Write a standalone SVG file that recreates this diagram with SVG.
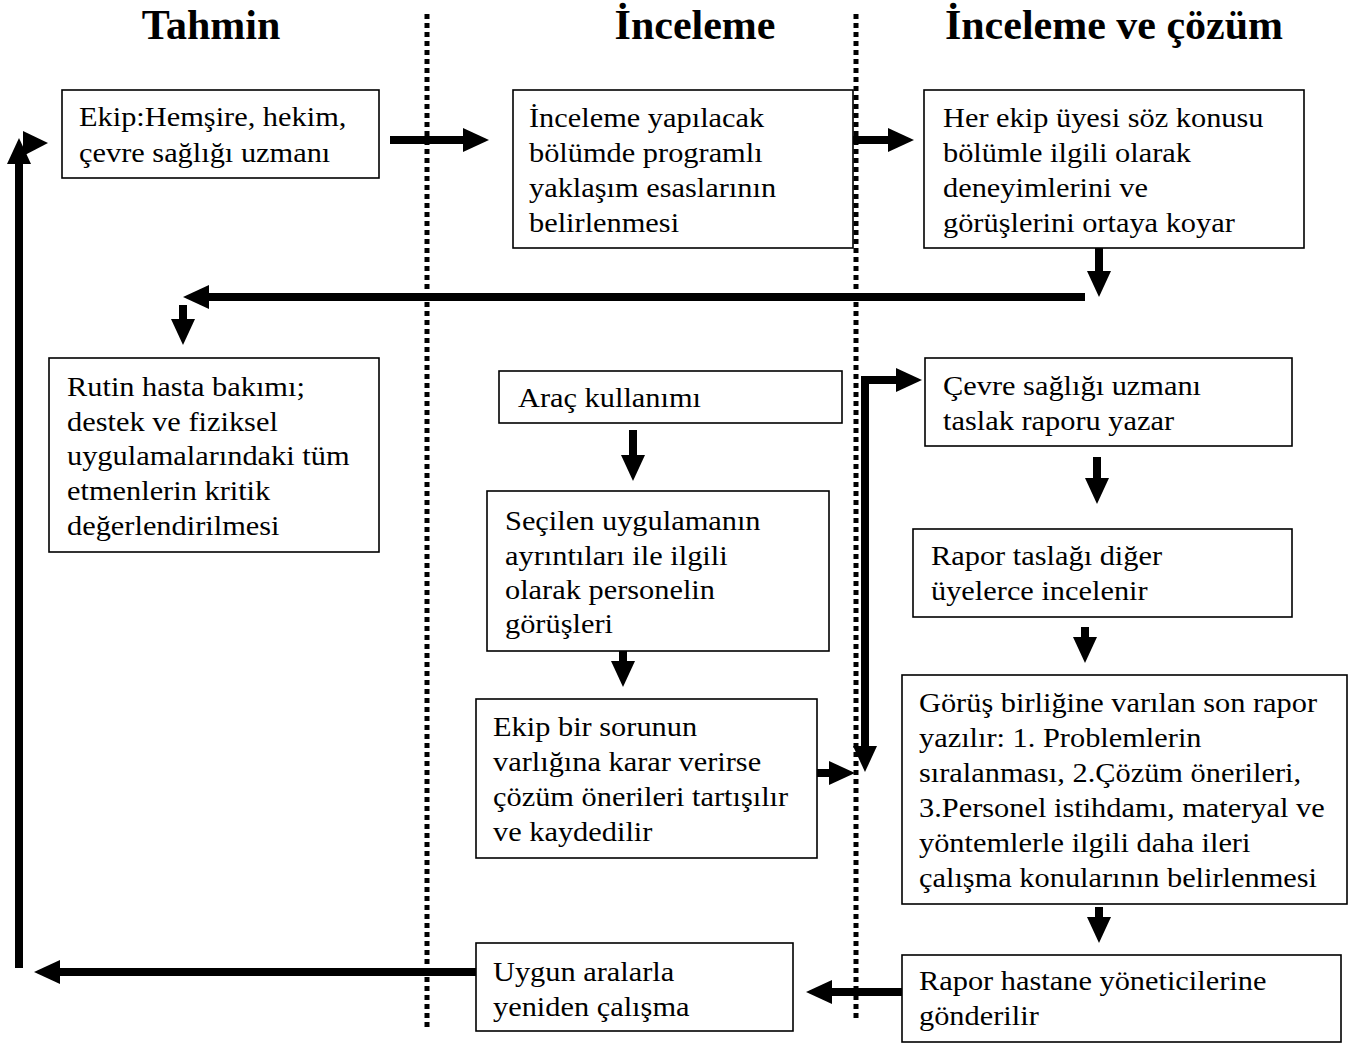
<svg xmlns="http://www.w3.org/2000/svg" width="1348" height="1044" viewBox="0 0 1348 1044">
<style>
.box{fill:#fff;stroke:#000;stroke-width:1.6}
.t{font-family:"Liberation Serif","Times New Roman",serif;font-size:28px;fill:#000}
.h{font-family:"Liberation Serif","Times New Roman",serif;font-size:42px;font-weight:bold;fill:#000;text-anchor:middle}
.dot{stroke:#000;stroke-width:5;stroke-dasharray:5 4;fill:none}
.ar{stroke:#000;stroke-width:8;fill:none;marker-end:url(#ah)}
</style>
<defs>
<marker id="ah" viewBox="0 0 26 24" refX="0" refY="12" markerWidth="26" markerHeight="24" markerUnits="userSpaceOnUse" orient="auto"><path d="M0,0 L26,12 L0,24 z" fill="#000"/></marker>
</defs>
<rect width="1348" height="1044" fill="#fff"/>
<g id="headers">
<text class="h" x="211" y="39">Tahmin</text>
<text class="h" x="695" y="39">İnceleme</text>
<text class="h" x="1114" y="39">İnceleme ve çözüm</text>
</g>
<g id="dividers">
<line class="dot" x1="427" y1="14" x2="427" y2="1028"/>
<line class="dot" x1="856" y1="14" x2="856" y2="1018"/>
</g>
<g id="connectors">
<line class="ar" x1="390" y1="140" x2="463" y2="140"/>
<line class="ar" x1="853" y1="140" x2="888" y2="140"/>
<line class="ar" x1="1099" y1="248" x2="1099" y2="271"/>
<line class="ar" x1="1085" y1="297" x2="209" y2="297"/>
<line class="ar" x1="183" y1="305" x2="183" y2="319"/>
<line class="ar" x1="633" y1="430" x2="633" y2="455"/>
<line class="ar" x1="623" y1="627" x2="623" y2="661"/>
<line class="ar" x1="817" y1="773" x2="829" y2="773"/>
<line class="ar" x1="865" y1="376" x2="865" y2="746"/>
<line class="ar" x1="861" y1="380" x2="896" y2="380"/>
<line class="ar" x1="1097" y1="457" x2="1097" y2="478"/>
<line class="ar" x1="1085" y1="627" x2="1085" y2="637"/>
<line class="ar" x1="1099" y1="907" x2="1099" y2="917"/>
<line class="ar" x1="902" y1="992" x2="832" y2="992"/>
<line class="ar" x1="476" y1="972" x2="60" y2="972"/>
<line class="ar" x1="19" y1="968" x2="19" y2="164"/>
<path d="M23,131 L48,143 L23,156 z" fill="#000"/>
</g>
<g id="n1">
<rect class="box" x="62" y="90" width="317" height="88"/>
<g transform="translate(79,0) scale(1.085,1)"><text class="t" x="0" y="126">Ekip:Hemşire, hekim,</text><text class="t" x="0" y="162">çevre sağlığı uzmanı</text></g>
</g>
<g id="n2">
<rect class="box" x="513" y="90" width="340" height="158"/>
<g transform="translate(529,0) scale(1.085,1)"><text class="t" x="0" y="127">İnceleme yapılacak</text><text class="t" x="0" y="162">bölümde programlı</text><text class="t" x="0" y="197">yaklaşım esaslarının</text><text class="t" x="0" y="232">belirlenmesi</text></g>
</g>
<g id="n3">
<rect class="box" x="924" y="90" width="380" height="158"/>
<g transform="translate(943,0) scale(1.085,1)"><text class="t" x="0" y="127">Her ekip üyesi söz konusu</text><text class="t" x="0" y="162">bölümle ilgili olarak</text><text class="t" x="0" y="197">deneyimlerini ve</text><text class="t" x="0" y="232">görüşlerini ortaya koyar</text></g>
</g>
<g id="n4">
<rect class="box" x="49" y="358" width="330" height="194"/>
<g transform="translate(67,0) scale(1.085,1)"><text class="t" x="0" y="396">Rutin hasta bakımı;</text><text class="t" x="0" y="431">destek ve fiziksel</text><text class="t" x="0" y="465">uygulamalarındaki tüm</text><text class="t" x="0" y="500">etmenlerin kritik</text><text class="t" x="0" y="535">değerlendirilmesi</text></g>
</g>
<g id="n5">
<rect class="box" x="499" y="371" width="343" height="52"/>
<g transform="translate(518,0) scale(1.085,1)"><text class="t" x="0" y="407">Araç kullanımı</text></g>
</g>
<g id="n6">
<rect class="box" x="487" y="491" width="342" height="160"/>
<g transform="translate(505,0) scale(1.085,1)"><text class="t" x="0" y="530">Seçilen uygulamanın</text><text class="t" x="0" y="565">ayrıntıları ile ilgili</text><text class="t" x="0" y="599">olarak personelin</text><text class="t" x="0" y="633">görüşleri</text></g>
</g>
<g id="n7">
<rect class="box" x="476" y="699" width="341" height="159"/>
<g transform="translate(493,0) scale(1.085,1)"><text class="t" x="0" y="736">Ekip bir sorunun</text><text class="t" x="0" y="771">varlığına karar verirse</text><text class="t" x="0" y="806">çözüm önerileri tartışılır</text><text class="t" x="0" y="841">ve kaydedilir</text></g>
</g>
<g id="n8">
<rect class="box" x="925" y="358" width="367" height="88"/>
<g transform="translate(943,0) scale(1.085,1)"><text class="t" x="0" y="395">Çevre sağlığı uzmanı</text><text class="t" x="0" y="430">taslak raporu yazar</text></g>
</g>
<g id="n9">
<rect class="box" x="913" y="529" width="379" height="88"/>
<g transform="translate(931,0) scale(1.085,1)"><text class="t" x="0" y="565">Rapor taslağı diğer</text><text class="t" x="0" y="600">üyelerce incelenir</text></g>
</g>
<g id="n10">
<rect class="box" x="902" y="675" width="445" height="229"/>
<g transform="translate(919,0) scale(1.085,1)"><text class="t" x="0" y="712">Görüş birliğine varılan son rapor</text><text class="t" x="0" y="747">yazılır: 1. Problemlerin</text><text class="t" x="0" y="782">sıralanması, 2.Çözüm önerileri,</text><text class="t" x="0" y="817">3.Personel istihdamı, materyal ve</text><text class="t" x="0" y="852">yöntemlerle ilgili daha ileri</text><text class="t" x="0" y="887">çalışma konularının belirlenmesi</text></g>
</g>
<g id="n11">
<rect class="box" x="902" y="955" width="439" height="87"/>
<g transform="translate(919,0) scale(1.085,1)"><text class="t" x="0" y="990">Rapor hastane yöneticilerine</text><text class="t" x="0" y="1025">gönderilir</text></g>
</g>
<g id="n12">
<rect class="box" x="476" y="943" width="317" height="88"/>
<g transform="translate(493,0) scale(1.085,1)"><text class="t" x="0" y="981">Uygun aralarla</text><text class="t" x="0" y="1016">yeniden çalışma</text></g>
</g>
</svg>
